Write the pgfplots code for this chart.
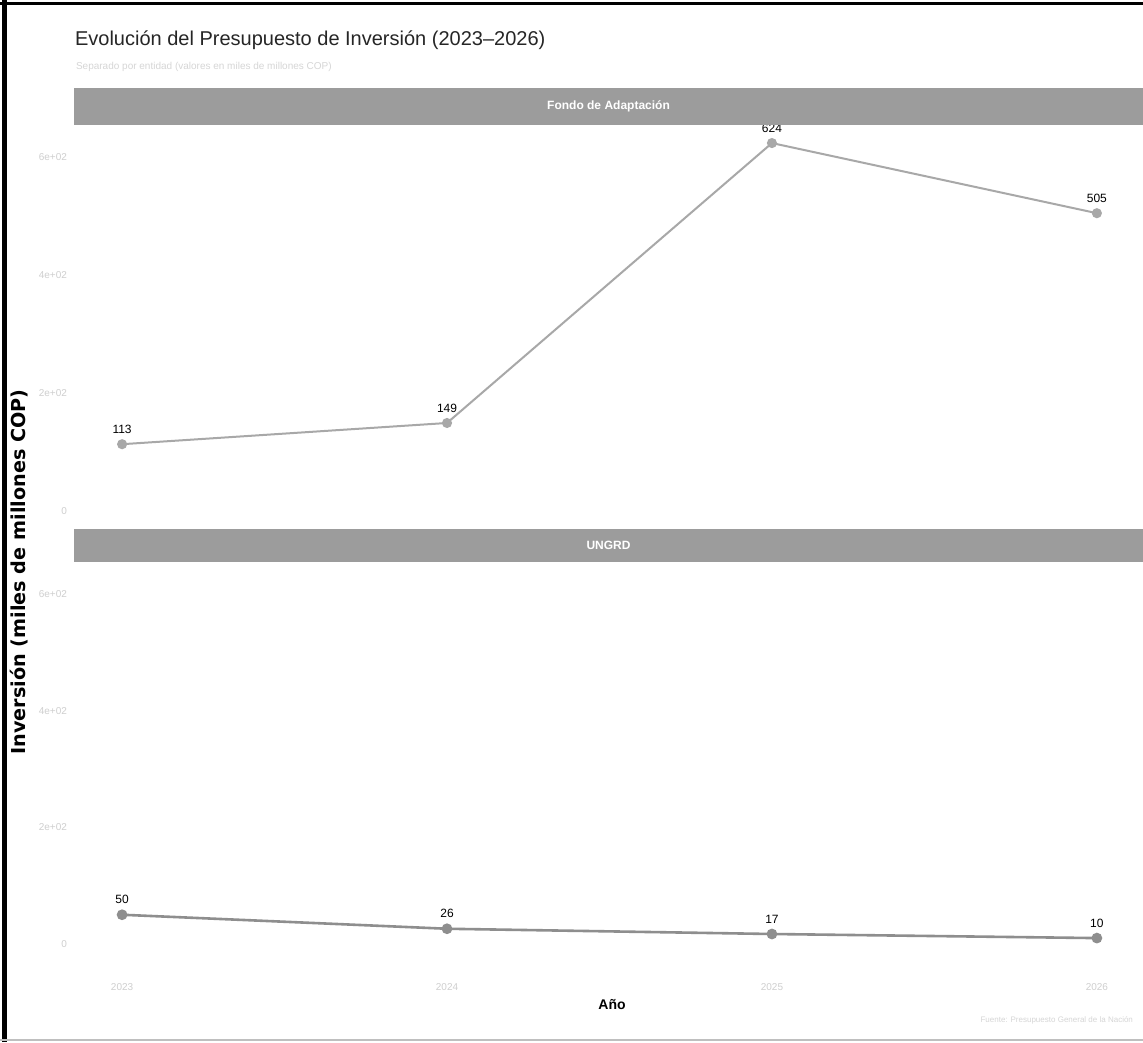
\documentclass[border=0pt]{standalone}
\usepackage{fontspec}
\setmainfont{Liberation Sans}
\newfontfamily\dejavu{DejaVu Sans}
\usepackage{pgfplots}
\pgfplotsset{compat=1.18}
\definecolor{topline}{HTML}{A8A8A8}
\definecolor{botline}{HTML}{8E8E8E}
\definecolor{stripgray}{HTML}{9C9C9C}
\definecolor{ticklab}{HTML}{CFCFCF}
\definecolor{subtit}{HTML}{D6D6D6}
\pgfplotsset{
  facet/.style={
    scale only axis, width=534.5pt,
    xmin=2022.852, xmax=2026.142,
    ymin=-20.7, ymax=654.7,
    axis line style={draw=none},
    tick style={draw=none},
    ytick={0,200,400,600},
    yticklabels={0,2e+02,4e+02,6e+02},
    yticklabel style={font=\fontsize{5}{6}\selectfont, text=ticklab},
    xtick={2023,2024,2025,2026},
    xticklabels={2023,2024,2025,2026},
    xticklabel style={font=\fontsize{5}{6}\selectfont, text=ticklab},
    nodes near coords,
    point meta=explicit symbolic,
    every node near coord/.append style={font=\fontsize{6}{7}\selectfont, text=black, anchor=south, yshift=1.5pt},
    clip=false,
  }
}
\begin{document}
\begin{tikzpicture}
\useasboundingbox (0,0) rectangle (571.5pt,521pt);
\fill[white] (0,0) rectangle (571.5pt,521pt);
% top panel
\begin{axis}[facet, at={(37pt,259.5pt)}, anchor=south west, height=199pt, xticklabels={}]
\addplot[topline, line width=1pt, mark=*, mark size=2pt, mark options={fill=topline, draw=topline}]
  table[meta=lab] {
  x y lab
  2023 113 113
  2024 149 149
  2025 624 624
  2026 505 505
  };
\end{axis}
% bottom panel
\begin{axis}[facet, at={(37pt,43pt)}, anchor=south west, height=197pt, xticklabel style={yshift=-10pt}]
\addplot[botline, line width=1.3pt, mark=*, mark size=2pt, mark options={fill=botline, draw=botline}]
  table[meta=lab] {
  x y lab
  2023 50 50
  2024 26 26
  2025 17 17
  2026 10 10
  };
\end{axis}
% strips
\fill[stripgray] (37pt,458.5pt) rectangle (571.5pt,477pt);
\node[text=white, font=\bfseries\fontsize{6}{7}\selectfont] at (304.25pt,467.75pt) {Fondo de Adaptación};
\fill[stripgray] (37pt,240pt) rectangle (571.5pt,256.5pt);
\node[text=white, font=\bfseries\fontsize{6}{7}\selectfont] at (304.25pt,248.25pt) {UNGRD};
% titles
\node[anchor=west, font=\fontsize{10}{12}\selectfont, text=black!85] at (34pt,501pt) {Evolución del Presupuesto de Inversión (2023–2026)};
\node[anchor=west, font=\fontsize{5}{6}\selectfont, text=subtit] at (34.5pt,487.5pt) {Separado por entidad (valores en miles de millones COP)};
% axis labels
\node[rotate=90, font=\dejavu\bfseries\fontsize{9.6}{11}\selectfont] at (9.5pt,235pt) {Inversión (miles de millones COP)};
\node[font=\bfseries\fontsize{7}{8}\selectfont] at (306pt,18.5pt) {Año};
% caption
\node[anchor=east, font=\fontsize{4}{5}\selectfont, text=subtit] at (570pt,11pt) {Fuente: Presupuesto General de la Nación};
% frame
\draw[black, line width=2.5pt] (2pt,0) -- (2pt,521pt);
\draw[black, line width=1.5pt] (0,519pt) -- (571.5pt,519pt);
\draw[black!25, line width=0.8pt] (0,1pt) -- (571.5pt,1pt);
\end{tikzpicture}
\end{document}
